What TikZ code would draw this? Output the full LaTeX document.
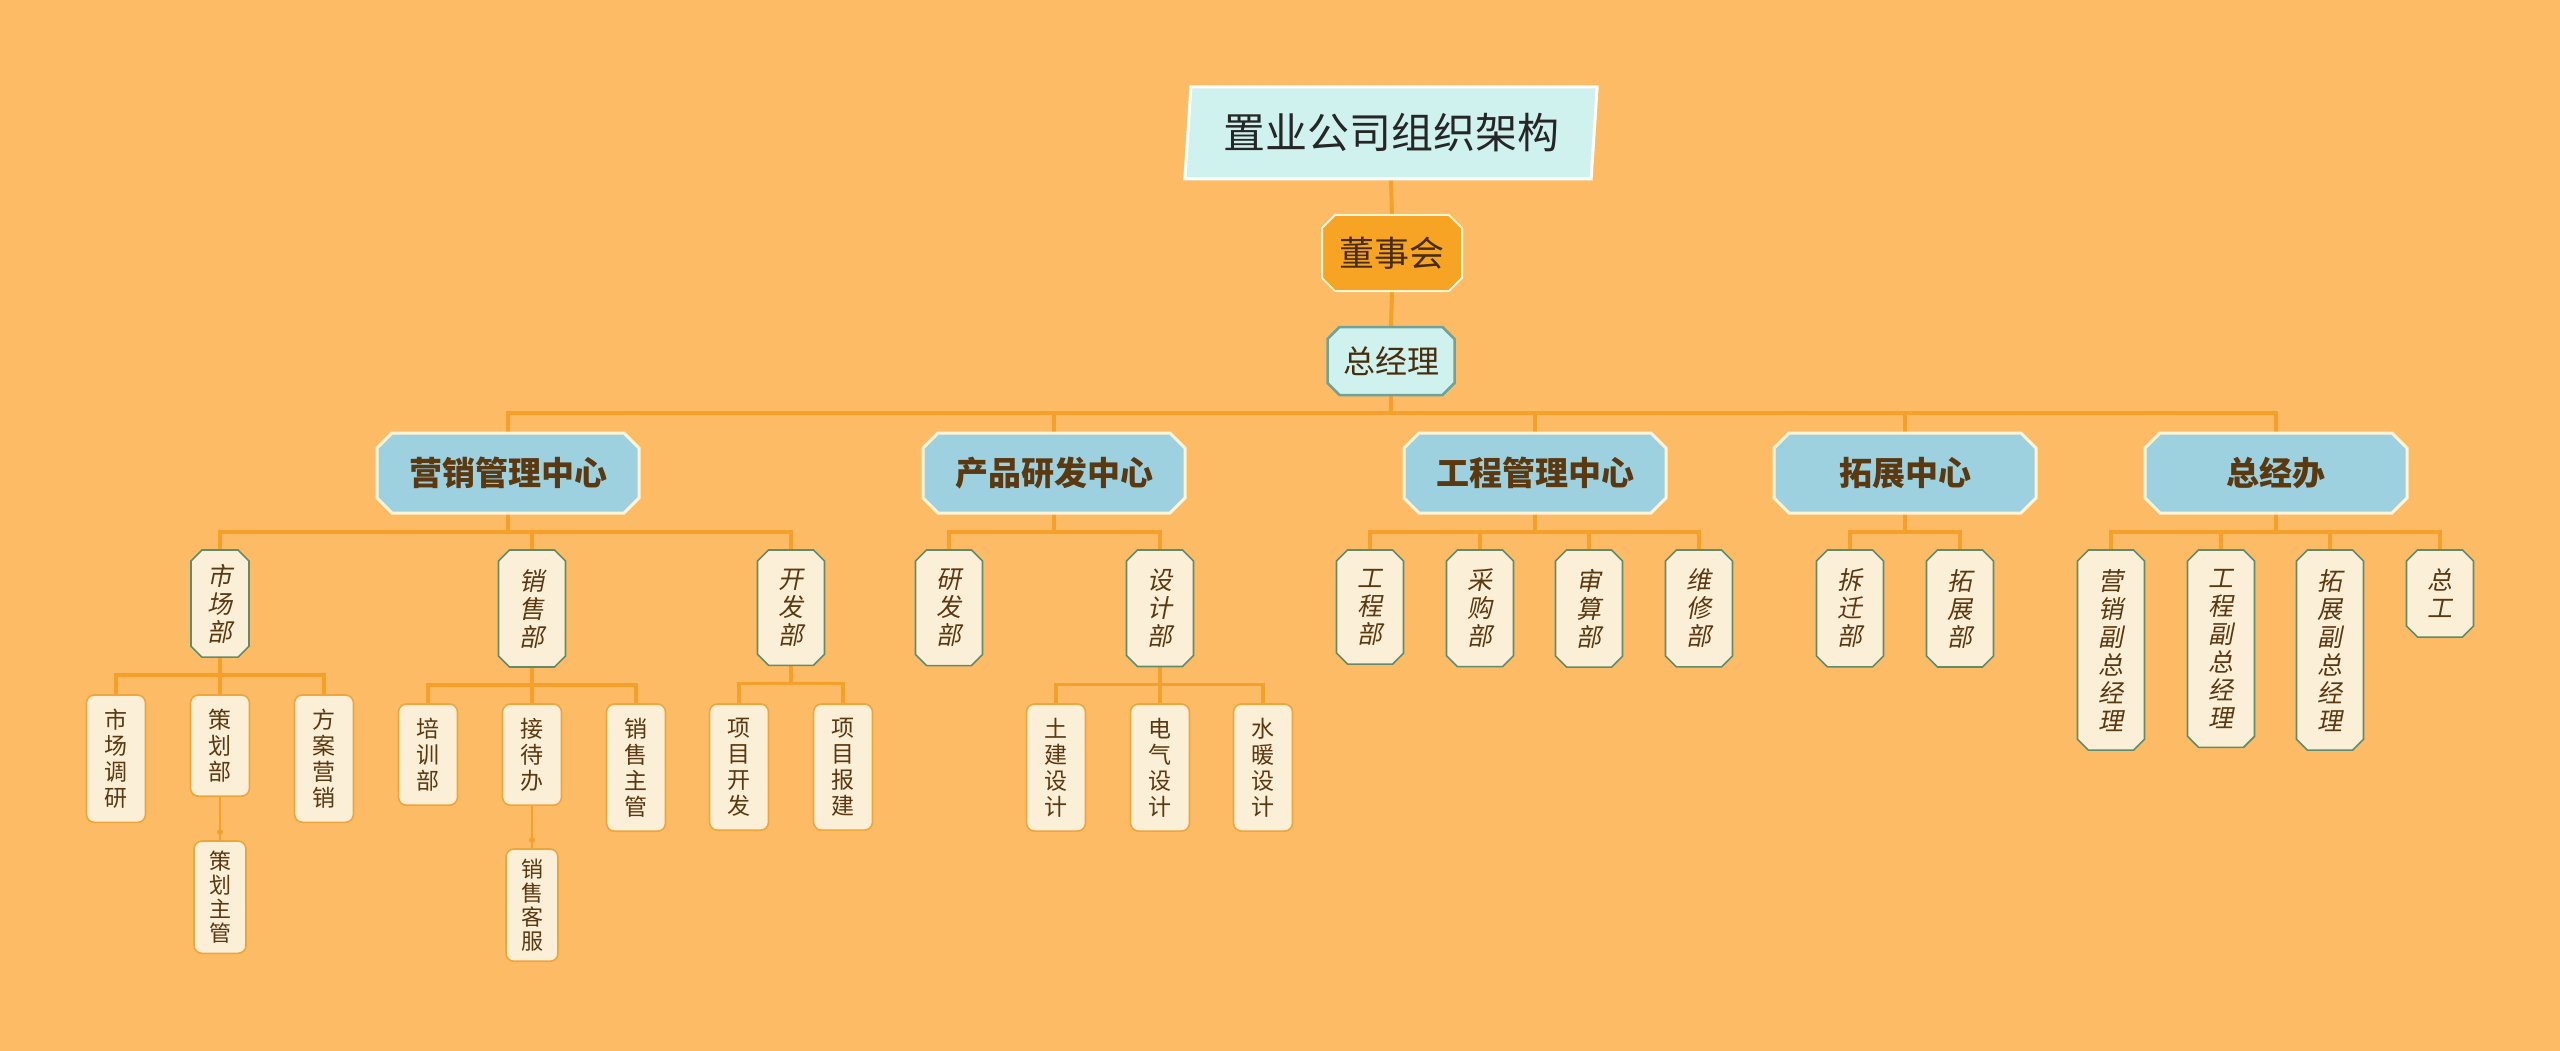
\documentclass[tikz,border=0pt]{standalone}
\usepackage{fontspec}
\usetikzlibrary{shapes.geometric, backgrounds}
\newfontfamily\cjk{Noto Sans CJK SC}
\newfontfamily\cjkit{Noto Sans CJK SC}[FakeSlant=0.2]
\definecolor{bgorange}{HTML}{FDBB66}
\definecolor{linkorange}{HTML}{F5A02A}
\definecolor{boxblue}{HTML}{9ED1DF}
\definecolor{boxcream}{HTML}{FCEFD8}
\definecolor{boxcyan}{HTML}{D0F2EF}
\definecolor{boardorange}{HTML}{F7A323}
\definecolor{txtbrown}{HTML}{5A3810}
\definecolor{edgegreen}{HTML}{5F8C6D}
\definecolor{edgeteal}{HTML}{6FA39A}
\definecolor{edgelight}{HTML}{FFF4D6}
\definecolor{edgeorange}{HTML}{EFA53A}

% box with cut corners
\makeatletter
\newdimen\cutlen \newdimen\cutxa \newdimen\cutya \newdimen\cutxb \newdimen\cutyb
\pgfkeys{/pgf/cut size/.initial=10pt}
\pgfdeclareshape{cut box}{%
  \inheritsavedanchors[from=rectangle]%
  \inheritanchorborder[from=rectangle]%
  \inheritanchor[from=rectangle]{center}%
  \inheritanchor[from=rectangle]{north}%
  \inheritanchor[from=rectangle]{south}%
  \inheritanchor[from=rectangle]{east}%
  \inheritanchor[from=rectangle]{west}%
  \inheritanchor[from=rectangle]{north west}%
  \inheritanchor[from=rectangle]{north east}%
  \inheritanchor[from=rectangle]{south west}%
  \inheritanchor[from=rectangle]{south east}%
  \backgroundpath{%
    \pgfmathsetlength\cutlen{\pgfkeysvalueof{/pgf/cut size}}%
    \southwest \cutxa=\pgf@x \cutya=\pgf@y
    \northeast \cutxb=\pgf@x \cutyb=\pgf@y
    \pgfpathmoveto{\pgfqpoint{\dimexpr\cutxa+\cutlen\relax}{\cutyb}}%
    \pgfpathlineto{\pgfqpoint{\dimexpr\cutxb-\cutlen\relax}{\cutyb}}%
    \pgfpathlineto{\pgfqpoint{\cutxb}{\dimexpr\cutyb-\cutlen\relax}}%
    \pgfpathlineto{\pgfqpoint{\cutxb}{\dimexpr\cutya+\cutlen\relax}}%
    \pgfpathlineto{\pgfqpoint{\dimexpr\cutxb-\cutlen\relax}{\cutya}}%
    \pgfpathlineto{\pgfqpoint{\dimexpr\cutxa+\cutlen\relax}{\cutya}}%
    \pgfpathlineto{\pgfqpoint{\cutxa}{\dimexpr\cutya+\cutlen\relax}}%
    \pgfpathlineto{\pgfqpoint{\cutxa}{\dimexpr\cutyb-\cutlen\relax}}%
    \pgfpathclose
  }%
}
\makeatother

\begin{document}
\begin{tikzpicture}[x=1pt, y=-1pt,
        title/.style={trapezium, trapezium left angle=82.5, trapezium right angle=97.5, trapezium stretches=true, fill=boxcyan, draw=white, line width=3pt, minimum width=413pt, minimum height=92pt, inner sep=0pt, text=black!85, font=\cjk\fontsize{42}{50}\selectfont},
        board/.style={cut box, cut size=13pt, fill=boardorange, draw=edgelight, line width=2pt, minimum width=140pt, minimum height=76pt, inner sep=0pt, outer sep=0pt, text=txtbrown!80!black, font=\cjk\fontsize{35}{40}\selectfont},
        gm/.style={cut box, cut size=12pt, fill=boxcyan, draw=edgeteal, line width=2.5pt, minimum width=127pt, minimum height=68pt, inner sep=0pt, outer sep=0pt, text=txtbrown!80!black, font=\cjk\fontsize{32}{36}\selectfont},
        hub/.style={cut box, cut size=15pt, fill=boxblue, draw=edgelight, line width=3pt, minimum width=262pt, minimum height=80pt, inner sep=0pt, outer sep=0pt, text=txtbrown, font=\cjk\bfseries\fontsize{33}{36}\selectfont},
        dept/.style={cut box, cut size=11pt, fill=boxcream, draw=edgegreen, line width=1.6pt, minimum width=67pt, inner xsep=0pt, inner ysep=19pt, outer sep=0pt, align=center, anchor=north, text=txtbrown, font=\cjkit\fontsize{25}{28}\selectfont},
        unit/.style={rectangle, rounded corners=8pt, fill=boxcream, draw=edgeorange, line width=1.6pt, minimum width=59pt, inner xsep=0pt, inner ysep=14pt, outer sep=0pt, align=center, anchor=north, text=txtbrown, font=\cjk\fontsize{23}{26}\selectfont},
        post/.style={unit, minimum width=52pt, inner ysep=10pt, font=\cjk\fontsize{22}{24}\selectfont},
        link/.style={draw=linkorange, line width=4pt},
        sublink/.style={draw=linkorange, line width=3.5pt},
        thinlink/.style={draw=linkorange, line width=1.5pt}
    ]
        \useasboundingbox (0,0) rectangle (2560,1051);

        % Top
        \node[title] (ttl) at (1391,133) {置业公司组织架构};
        \node[board] (board) at (1392,253) {董事会};
        \node[gm] (gm) at (1391,361) {总经理};

        % Centres
        \node[hub] (mkt) at (508,473) {营销管理中心};
        \node[hub] (rnd) at (1054,473) {产品研发中心};
        \node[hub] (eng) at (1535,473) {工程管理中心};
        \node[hub] (exp) at (1905,473) {拓展中心};
        \node[hub] (gmo) at (2276,473) {总经办};

        % Departments
        \node[dept, minimum width=58pt, inner ysep=14pt] (shichang) at (220,550) {市\\场\\部};
        \node[dept] (xiaoshou) at (532,550) {销\\售\\部};
        \node[dept] (kaifa) at (791,550) {开\\发\\部};
        \node[dept] (yanfa) at (949,550) {研\\发\\部};
        \node[dept] (sheji) at (1160,550) {设\\计\\部};
        \node[dept] (gongcheng) at (1370,550) {工\\程\\部};
        \node[dept] (caigou) at (1480,550) {采\\购\\部};
        \node[dept] (shensuan) at (1589,550) {审\\算\\部};
        \node[dept] (weixiu) at (1699,550) {维\\修\\部};
        \node[dept] (chaiqian) at (1850,550) {拆\\迁\\部};
        \node[dept] (tuozhan) at (1960,550) {拓\\展\\部};
        \node[dept] (yxfz) at (2111,550) {营\\销\\副\\总\\经\\理};
        \node[dept] (gcfz) at (2221,550) {工\\程\\副\\总\\经\\理};
        \node[dept] (tzfz) at (2330,550) {拓\\展\\副\\总\\经\\理};
        \node[dept] (zonggong) at (2440,550) {总\\工};

        % Units
        \node[unit] (scdy) at (116,695) {市\\场\\调\\研};
        \node[unit] (chb) at (220,695) {策\\划\\部};
        \node[unit] (faxy) at (324,695) {方\\案\\营\\销};
        \node[unit] (pxb) at (428,704) {培\\训\\部};
        \node[unit] (jdb) at (532,704) {接\\待\\办};
        \node[unit] (xszg) at (636,704) {销\\售\\主\\管};
        \node[unit] (xmkf) at (739,704) {项\\目\\开\\发};
        \node[unit] (xmbj) at (843,704) {项\\目\\报\\建};
        \node[unit] (tjsj) at (1056,704) {土\\建\\设\\计};
        \node[unit] (dqsj) at (1160,704) {电\\气\\设\\计};
        \node[unit] (snsj) at (1263,704) {水\\暖\\设\\计};
        \node[post] (chzg) at (220,841) {策\\划\\主\\管};
        \node[post] (xskf) at (532,849) {销\\售\\客\\服};

        % Connectors
        \begin{scope}[on background layer]
            \fill[bgorange] (0,0) rectangle (2560,1051);
            \draw[link] (ttl.south) -- (board.north);
            \draw[link] (board.south) -- (gm.north);
            \foreach \c in {mkt, rnd, eng, exp, gmo}
                \draw[link] (gm.south) -- ++(0,18) -| (\c.north);
            \foreach \p/\c in {mkt/shichang, mkt/xiaoshou, mkt/kaifa, rnd/yanfa, rnd/sheji,
                eng/gongcheng, eng/caigou, eng/shensuan, eng/weixiu, exp/chaiqian, exp/tuozhan,
                gmo/yxfz, gmo/gcfz, gmo/tzfz, gmo/zonggong}
                \draw[link] (\p.south) -- ++(0,19) -| (\c.north);
            \foreach \p/\c in {shichang/scdy, shichang/chb, shichang/faxy, xiaoshou/pxb, xiaoshou/jdb,
                xiaoshou/xszg, kaifa/xmkf, kaifa/xmbj, sheji/tjsj, sheji/dqsj, sheji/snsj}
                \draw[sublink] (\p.south) -- ++(0,18) -| (\c.north);
            \foreach \p/\c in {chb/chzg, jdb/xskf} {
                \draw[thinlink] (\p.south) -- (\c.north);
                \fill[linkorange] ([yshift=9pt]\c.north) circle (3pt);
            }
        \end{scope}
\end{tikzpicture}
\end{document}
